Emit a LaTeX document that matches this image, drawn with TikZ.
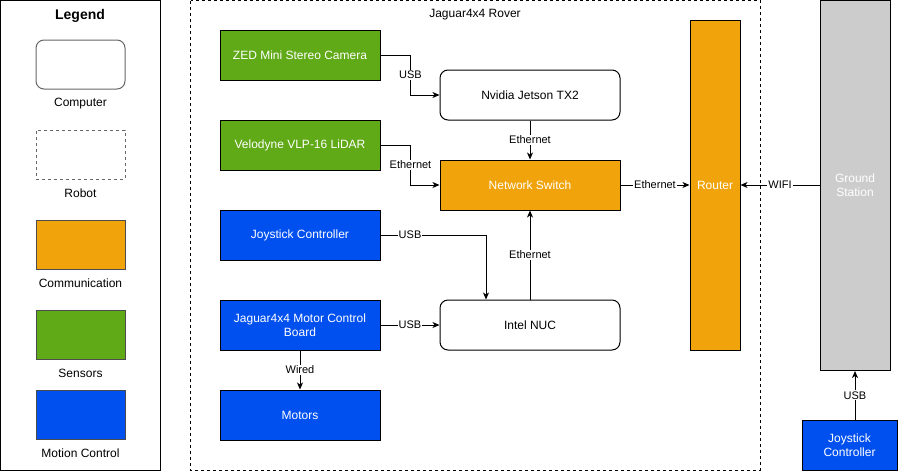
\documentclass[tikz,border=0pt]{standalone}
\usepackage{fontspec}
\setmainfont{Liberation Sans}
\usetikzlibrary{arrows.meta}
\definecolor{commorange}{HTML}{F0A30A}
\definecolor{sensgreen}{HTML}{60A917}
\definecolor{motblue}{HTML}{0050EF}
\definecolor{gsgray}{HTML}{CCCCCC}
\tikzset{
  box/.style={draw=black,line width=1pt,minimum width=160pt,minimum height=50pt,
    inner sep=2pt,align=center,font=\fontsize{12}{14}\selectfont},
  comp/.style={box,rounded corners=8pt,fill=white,minimum width=180pt},
  comm/.style={box,fill=commorange,text=white},
  sens/.style={box,fill=sensgreen,text=white},
  moti/.style={box,fill=motblue,text=white},
  lgd/.style={draw=#1,line width=1pt,minimum width=89pt,minimum height=49pt},
  lgdtext/.style={font=\fontsize{12}{14}\selectfont},
  arr/.style={line width=1pt,-{Stealth[length=7pt,width=6pt,inset=2pt]}},
  lbl/.style={fill=white,inner sep=1pt,font=\fontsize{11}{13}\selectfont}
}
\begin{document}
\begin{tikzpicture}[x=1pt,y=-1pt]
\useasboundingbox (0,0) rectangle (909,471);
% legend
\draw[line width=1pt] (0.5,0.5) rectangle (160,470);
\node[font=\bfseries\fontsize{14}{16}\selectfont] (lgdtitle) at (80,15.5) {Legend};
\node[lgd=black!60,rounded corners=8pt] (lgdcomp) at (80.5,64.5) {};
\node[lgdtext] at (80.5,103.5) {Computer};
\node[lgd=black!60,dashed,dash pattern=on 3pt off 3pt] (lgdrobot) at (80.5,154.5) {};
\node[lgdtext] at (80.5,193.5) {Robot};
\node[lgd=black!70,fill=commorange] (lgdcomm) at (80.5,244.5) {};
\node[lgdtext] at (80.5,283.5) {Communication};
\node[lgd=black!70,fill=sensgreen] (lgdsens) at (80.5,334.5) {};
\node[lgdtext] at (80.5,373.5) {Sensors};
\node[lgd=black!70,fill=motblue] (lgdmoti) at (80.5,414.5) {};
\node[lgdtext] at (80.5,453.5) {Motion Control};
% rover
\draw[line width=1pt,dash pattern=on 3pt off 3pt] (190.5,0.5) rectangle (760,470);
\node[lgdtext] (rover) at (475,14.5) {Jaguar4x4 Rover};
\node[sens] (zed) at (300,55) {ZED Mini Stereo Camera};
\node[sens] (velo) at (300,145) {Velodyne VLP-16 LiDAR};
\node[moti] (joy) at (300,235) {Joystick Controller};
\node[moti] (board) at (300,325) {Jaguar4x4 Motor Control\\Board};
\node[moti] (motors) at (300,415) {Motors};
\node[comp] (jetson) at (530,95) {Nvidia Jetson TX2};
\node[comm,minimum width=180pt] (switch) at (530,185) {Network Switch};
\node[comp] (nuc) at (530,325) {Intel NUC};
\node[comm,minimum width=50pt,minimum height=330pt] (router) at (715,185) {Router};
% ground side
\node[box,fill=gsgray,text=white,minimum width=70pt,minimum height=370pt,
  text depth=0pt] (ground) at (855,185.5) {Ground\\Station};
\node[moti,minimum width=95pt] (joy2) at (849.5,445) {Joystick\\Controller};
% links
\draw[arr] (zed.east) -- ++(30,0) |- node[lbl,pos=0.25] {USB} (jetson.west);
\draw[arr] (velo.east) -- ++(30,0) |- node[lbl,pos=0.25] {Ethernet} (switch.west);
\draw[arr] (jetson.south) -- node[lbl] {Ethernet} (switch.north);
\draw[arr] (joy.east) -| node[lbl,pos=0.14] {USB} ([xshift=-44pt]nuc.north);
\draw[arr] (board.east) -- node[lbl] {USB} (nuc.west);
\draw[arr] (nuc.north) -- node[lbl] {Ethernet} (switch.south);
\draw[arr] (switch.east) -- node[lbl] {Ethernet} (router.west);
\draw[arr] (ground.west |- router.east) -- node[lbl] {WIFI} (router.east);
\draw[arr] (board.south) -- node[lbl] {Wired} (motors.north);
\draw[arr] (joy2.north -| ground.south) -- node[lbl] {USB} (ground.south);
\end{tikzpicture}
\end{document}
